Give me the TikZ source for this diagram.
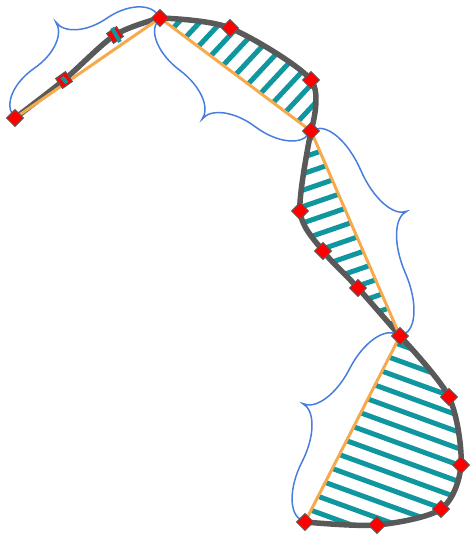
\documentclass[tikz,border=0pt]{standalone}
\usetikzlibrary{calc}
\definecolor{curvegray}{RGB}{89,89,89}
\definecolor{chordorange}{RGB}{247,170,76}
\definecolor{hatchteal}{RGB}{16,150,158}
\definecolor{braceblue}{RGB}{72,126,222}
\definecolor{markred}{RGB}{255,0,0}

% curly brace on the left-hand side of #1 -> #2
\newcommand{\bracepath}[2]{%
  \draw[brace] ($(#1)!0!(#2)!4pt!90:(#2)$)
    .. controls ($(#1)!0!(#2)!18pt!90:(#2)$) and ($(#1)!0.11!(#2)!30pt!90:(#2)$)
    .. ($(#1)!0.25!(#2)!30pt!90:(#2)$)
    .. controls ($(#1)!0.39!(#2)!30pt!90:(#2)$) and ($(#1)!0.5!(#2)!42pt!90:(#2)$)
    .. ($(#1)!0.5!(#2)!56pt!90:(#2)$)
    .. controls ($(#1)!0.5!(#2)!42pt!90:(#2)$) and ($(#1)!0.61!(#2)!30pt!90:(#2)$)
    .. ($(#1)!0.75!(#2)!30pt!90:(#2)$)
    .. controls ($(#1)!0.89!(#2)!30pt!90:(#2)$) and ($(#2)!18pt!-90:(#1)$)
    .. ($(#2)!4pt!-90:(#1)$);}

\begin{document}
\begin{tikzpicture}[x=1pt, y=-1pt,
    curve/.style={curvegray, line width=5.5pt, line cap=round, line join=round},
    chord/.style={chordorange, line width=3pt, line join=round},
    hatch/.style={hatchteal, line width=5pt},
    brace/.style={braceblue, line width=1.5pt},
    marker/.style={draw=curvegray, fill=markred, line width=1pt,
                   minimum size=12pt, inner sep=0pt, rotate=45}
  ]
    \useasboundingbox (0,0) rectangle (473,540);

    % Sample points on the curve
    \coordinate (p0)  at (15,118);
    \coordinate (p1)  at (64,80);
    \coordinate (p2)  at (115,35);
    \coordinate (p3)  at (160,18);
    \coordinate (p4)  at (230,28);
    \coordinate (p5)  at (311,80);
    \coordinate (p6)  at (311,131);
    \coordinate (p7)  at (300,211);
    \coordinate (p8)  at (323,251);
    \coordinate (p9)  at (358,288);
    \coordinate (p10) at (400,336);
    \coordinate (p11) at (449,397);
    \coordinate (p12) at (461,465);
    \coordinate (p13) at (441,509);
    \coordinate (p14) at (377,525);
    \coordinate (p15) at (305,522);

    % Hatching between chord and curve
    \begin{scope}
      \clip plot[smooth] coordinates {(p3) (p4) (p5) (p6)} -- cycle;
      \begin{scope}[shift={(240,70)}, rotate=47]
        \foreach \k in {-12,...,12}
          \draw[hatch] (-200,\k*15.5) -- (200,\k*15.5);
      \end{scope}
    \end{scope}
    \begin{scope}
      \clip plot[smooth] coordinates {(p6) (p7) (p8) (p9) (p10)} -- cycle;
      \begin{scope}[shift={(330,230)}, rotate=19]
        \foreach \k in {-12,...,12}
          \draw[hatch] (-200,\k*15.5) -- (200,\k*15.5);
      \end{scope}
    \end{scope}
    \begin{scope}
      \clip plot[smooth] coordinates {(p10) (p11) (p12) (p13) (p14) (p15)} -- cycle;
      \begin{scope}[shift={(390,440)}, rotate=-20]
        \foreach \k in {-12,...,12}
          \draw[hatch] (-200,\k*15.5) -- (200,\k*15.5);
      \end{scope}
    \end{scope}

    % Curve
    \draw[curve] plot[smooth] coordinates {(p0) (p1) (p2) (p3)};
    \draw[curve] plot[smooth] coordinates {(p3) (p4) (p5) (p6)};
    \draw[curve] plot[smooth] coordinates {(p6) (p7) (p8) (p9) (p10)};
    \draw[curve] plot[smooth] coordinates {(p10) (p11) (p12) (p13) (p14) (p15)};

    % Chords
    \draw[chord] (p0) -- (p3) -- (p6) -- (p10) -- (p15);

    % Braces
    \bracepath{p0}{p3}
    \bracepath{p6}{p3}
    \bracepath{p6}{p10}
    \bracepath{p15}{p10}

    % Markers
    \foreach \p in {p0,p3,p4,p5,p6,p7,p8,p9,p10,p11,p12,p13,p14,p15}
      \node[marker] (m\p) at (\p) {};
    \node[marker, rotate=-10] (mp1) at (p1) {};
    \node[marker, rotate=-10] (mp2) at (p2) {};
    \draw[hatchteal, line width=4pt] ([shift={(-2,-3)}]mp1.center) -- ([shift={(3,3)}]mp1.center);
    \draw[hatchteal, line width=4pt] ([shift={(-3,-7)}]mp2.center) -- ([shift={(5,7)}]mp2.center);
  \end{tikzpicture}
\end{document}
